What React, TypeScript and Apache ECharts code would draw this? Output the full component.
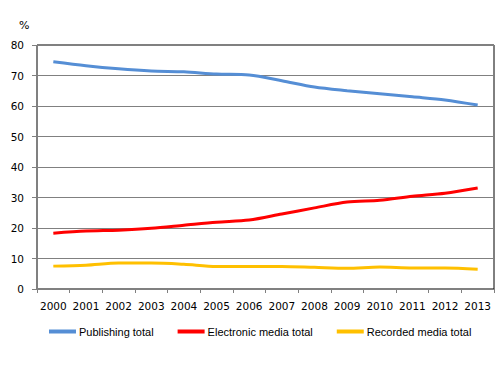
import React, { useEffect, useRef } from "react";
import * as echarts from "echarts";

const years = ["2000","2001","2002","2003","2004","2005","2006","2007","2008","2009","2010","2011","2012","2013"];
const publishing = [74.5, 73.2, 72.2, 71.5, 71.2, 70.5, 70.2, 68.3, 66.2, 65.0, 64.0, 63.0, 62.0, 60.3];
const electronic = [18.3, 19.0, 19.3, 19.9, 20.9, 21.9, 22.6, 24.6, 26.6, 28.5, 29.1, 30.4, 31.4, 33.1];
const recorded = [7.5, 7.8, 8.5, 8.5, 8.1, 7.4, 7.4, 7.4, 7.1, 6.8, 7.2, 6.9, 6.9, 6.5];
const seriesNames = ["Publishing total", "Electronic media total", "Recorded media total"];
const colors = ["#558ED5", "#FF0000", "#FFC000"];

export default function App() {
  const ref = useRef<HTMLDivElement>(null);
  useEffect(() => {
    if (!ref.current) return;
    const chart = echarts.init(ref.current, undefined, { renderer: "svg" });
    const font = "DejaVu Sans";
    const data = [publishing, electronic, recorded];
    chart.setOption({
      animation: false,
      backgroundColor: "#fff",
      grid: {
        left: 37, right: 9, top: 45, bottom: 97,
        show: true, borderColor: "#000", borderWidth: 1, backgroundColor: "transparent",
      },
      graphic: [
        { type: "text", left: 19, top: 20, style: { text: "%", font: `11px ${font}`, fill: "#000" } },
      ],
      legend: {
        left: 44, top: 321,
        itemWidth: 27, itemHeight: 4, itemGap: 24,
        icon: "rect",
        textStyle: { fontFamily: "Liberation Sans", fontSize: 11, color: "#000", padding: [0, 0, 0, -2] },
        data: seriesNames,
      },
      xAxis: {
        type: "category",
        data: years,
        boundaryGap: true,
        axisLine: { lineStyle: { color: "#808080" } },
        axisTick: { show: true, length: 4, lineStyle: { color: "#808080" } },
        axisLabel: { color: "#000", fontFamily: font, fontSize: 10.5, margin: 11, interval: 0 },
      },
      yAxis: {
        type: "value",
        min: 0, max: 80, interval: 10,
        axisLine: { show: true, lineStyle: { color: "#808080" } },
        axisTick: { show: true, length: 5, lineStyle: { color: "#808080" } },
        splitLine: { lineStyle: { color: "#808080" } },
        axisLabel: { color: "#000", fontFamily: font, fontSize: 10.5, margin: 13 },
      },
      series: data.map((d, i) => ({
        name: seriesNames[i],
        type: "line",
        data: d,
        smooth: 0.3,
        symbol: "none",
        lineStyle: { width: 3, color: colors[i] },
        itemStyle: { color: colors[i] },
      })),
    });
    return () => chart.dispose();
  }, []);
  return <div ref={ref} style={{ width: 503, height: 386, position: "absolute", left: 0, top: 0 }} />;
}
